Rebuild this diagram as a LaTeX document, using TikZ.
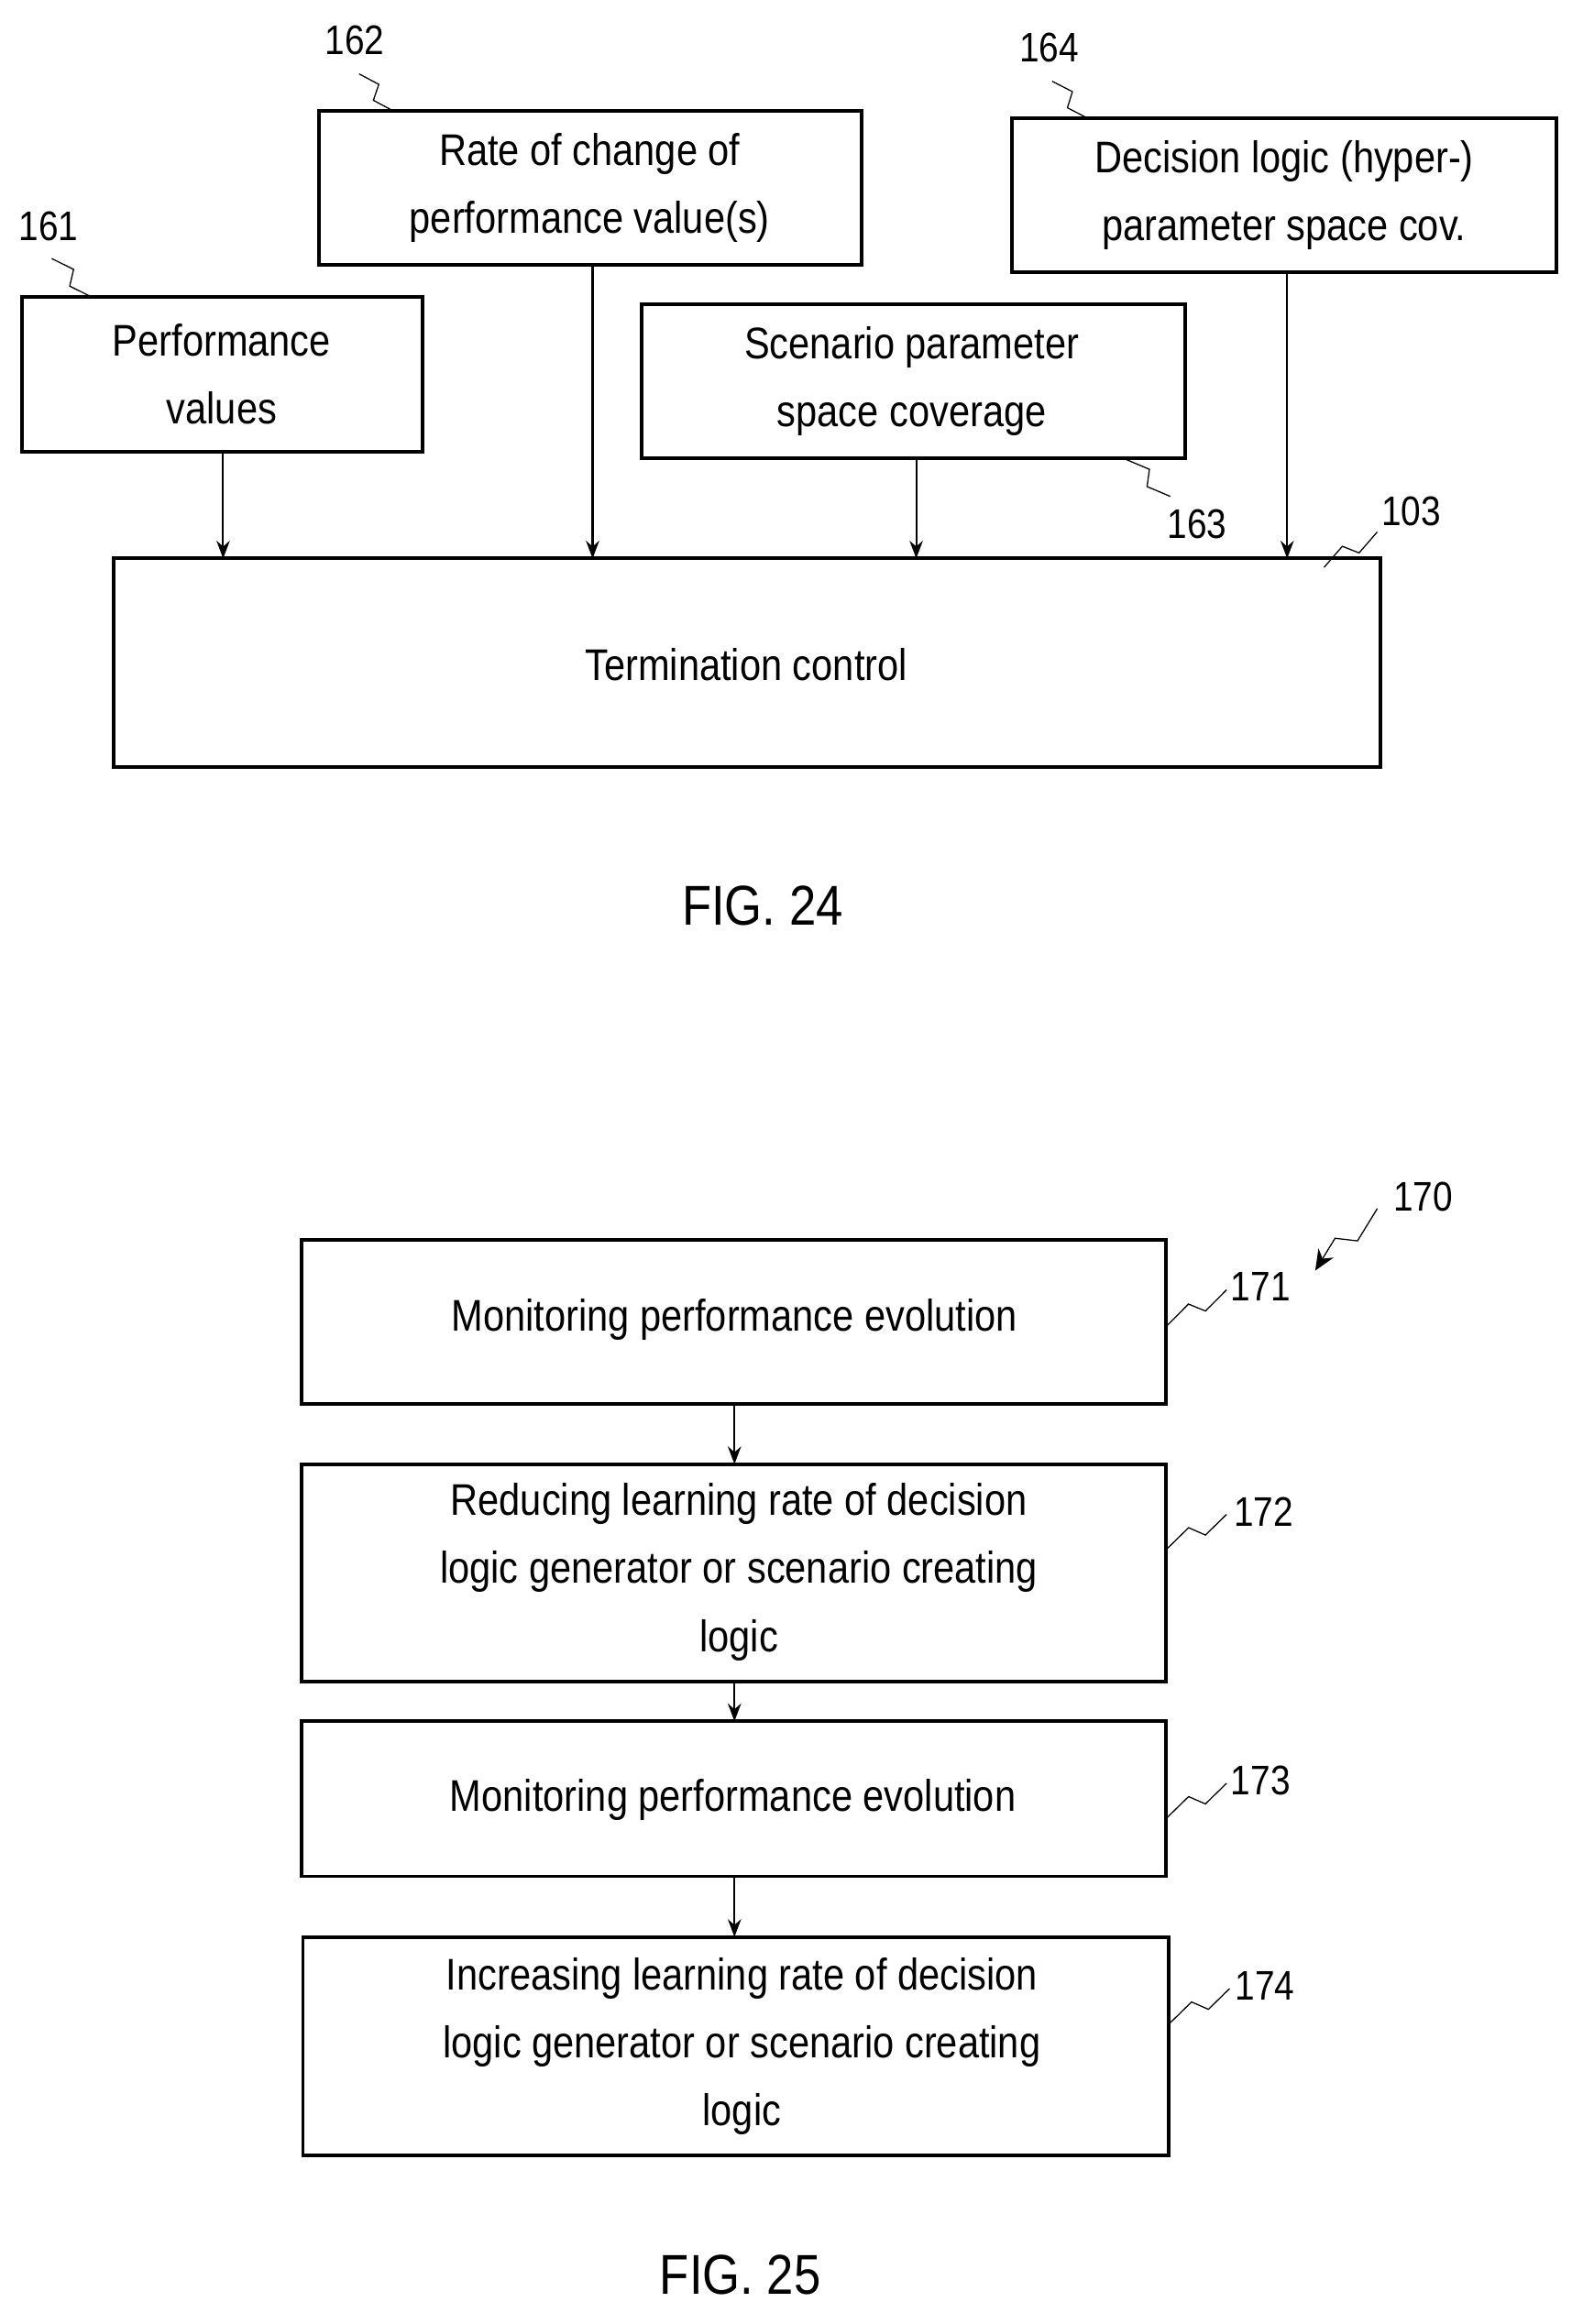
\documentclass[tikz,border=0pt]{standalone}
\usepackage{fontspec}
\setmainfont{Liberation Sans}[FakeStretch=0.86]
\usetikzlibrary{calc,arrows.meta}
\newcommand\zig[2]{\draw[thick] (#1) -- ($(#1)!0.42!(#2)!5pt!90:(#2)$) -- ($(#1)!0.58!(#2)!5pt!-90:(#2)$) -- (#2);}
\begin{document}
\begin{tikzpicture}[x=1pt,y=-1pt,
 box/.style={draw,line width=2.4pt,align=center,font=\fontsize{30}{46}\selectfont},
 lab/.style={font=\fontsize{28}{30}\selectfont,inner sep=1pt},
 arr/.style={-{Stealth[length=12pt,width=9pt]},line width=1.3pt},
 fig/.style={font=\fontsize{38}{40}\selectfont}]
\useasboundingbox (0,0) rectangle (1071,1573);
% FIG 24
\draw[box] (15,201) rectangle (286,306);
\node[box,draw=none] (b161) at (150,253) {Performance\\values};
\draw[box] (216,75) rectangle (583,179);
\node[box,draw=none] (b162) at (399,127) {Rate of change of\\performance value(s)};
\draw[box] (685,80) rectangle (1053,184);
\node[box,draw=none] (b164) at (869,132) {Decision logic (hyper-)\\parameter space cov.};
\draw[box] (434,206) rectangle (802,310);
\node[box,draw=none] (b163) at (617,258) {Scenario parameter\\space coverage};
\draw[box] (77,378) rectangle (934,519);
\node[box,draw=none] (tc) at (505,450) {Termination control};
\coordinate (s1) at (151,306); \coordinate (e1) at (151,378);
\coordinate (s2) at (401,179); \coordinate (e2) at (401,378);
\coordinate (s3) at (620,310); \coordinate (e3) at (620,378);
\coordinate (s4) at (871,184); \coordinate (e4) at (871,378);
\foreach \i in {1,2,3,4}{\draw[arr] (s\i) -- (e\i);}
\node[lab] (l161) at (33,153) {161};
\node[lab] (l162) at (240,27) {162};
\node[lab] (l164) at (710,32) {164};
\node[lab] (l163) at (810,355) {163};
\node[lab] (l103) at (955,346) {103};
\coordinate (z1a) at (35,175); \coordinate (z1b) at (62,201); \zig{z1a}{z1b}
\coordinate (z2a) at (243,50); \coordinate (z2b) at (266,75); \zig{z2a}{z2b}
\coordinate (z4a) at (712,55); \coordinate (z4b) at (736,80); \zig{z4a}{z4b}
\coordinate (z3a) at (762,311); \coordinate (z3b) at (792,336); \zig{z3a}{z3b}
\coordinate (z5a) at (896,384); \coordinate (z5b) at (932,360); \zig{z5a}{z5b}
\node[fig] (f24) at (516,613) {FIG. 24};
% FIG 25
\draw[box] (204,839) rectangle (789,950);
\node[box,draw=none] (b171) at (497,893) {Monitoring performance evolution};
\draw[box] (204,991) rectangle (789,1138);
\node[box,draw=none] (b172) at (500,1064) {Reducing learning rate of decision\\logic generator or scenario creating\\logic};
\draw[box] (204,1165) rectangle (789,1270);
\node[box,draw=none] (b173) at (496,1218) {Monitoring performance evolution};
\draw[box] (205,1311) rectangle (791,1459);
\node[box,draw=none] (b174) at (502,1385) {Increasing learning rate of decision\\logic generator or scenario creating\\logic};
\coordinate (a1) at (497,950); \coordinate (c1) at (497,991);
\coordinate (a2) at (497,1138); \coordinate (c2) at (497,1165);
\coordinate (a3) at (497,1270); \coordinate (c3) at (497,1311);
\foreach \i in {1,2,3}{\draw[arr] (a\i) -- (c\i);}
\node[lab] (l171) at (853,871) {171};
\node[lab] (l172) at (855,1023) {172};
\node[lab] (l173) at (853,1205) {173};
\node[lab] (l174) at (856,1344) {174};
\node[lab] (l170) at (963,810) {170};
\coordinate (y1a) at (790,897); \coordinate (y1b) at (830,873); \zig{y1a}{y1b}
\coordinate (y2a) at (790,1048); \coordinate (y2b) at (830,1025); \zig{y2a}{y2b}
\coordinate (y3a) at (790,1230); \coordinate (y3b) at (830,1207); \zig{y3a}{y3b}
\coordinate (y4a) at (792,1369); \coordinate (y4b) at (832,1346); \zig{y4a}{y4b}
\coordinate (w1) at (932,818); \coordinate (w2) at (890,860);
\draw[thick,-{Stealth[length=14pt,width=12pt]}] (w1) -- ($(w1)!0.42!(w2)!6pt!90:(w2)$) -- ($(w1)!0.58!(w2)!6pt!-90:(w2)$) -- (w2);
\node[fig] (f25) at (501,1540) {FIG. 25};
\end{tikzpicture}
\end{document}
